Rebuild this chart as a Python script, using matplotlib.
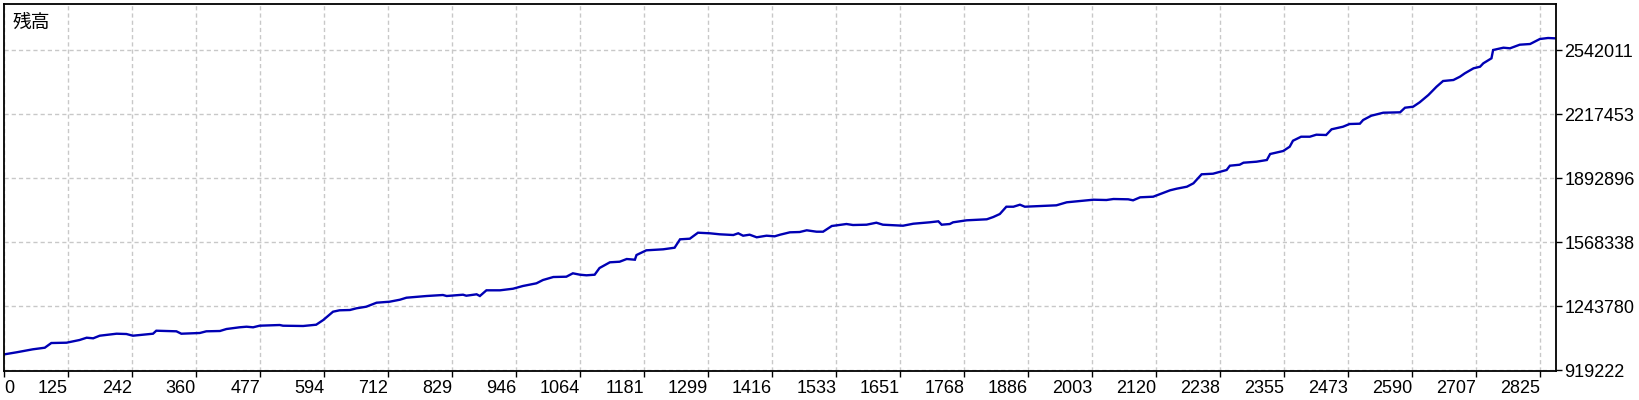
import matplotlib
matplotlib.use('Agg')
import matplotlib.pyplot as plt

# balance curve (trade number, balance)
trades = [1, 23, 53, 75, 87, 115, 139, 152, 164, 176, 207, 225, 237, 274, 280, 317, 326, 360,
          372, 397, 409, 433, 446, 458, 470, 507, 513, 550, 574, 587, 605, 617, 636, 648, 666,
          685, 709, 728, 740, 777, 807, 814, 844, 850, 869, 875, 887, 912, 936, 954, 979, 991,
          1010, 1034, 1046, 1059, 1071, 1086, 1095, 1114, 1132, 1145, 1160, 1163, 1181, 1212,
          1233, 1243, 1261, 1276, 1298, 1316, 1341, 1350, 1359, 1371, 1384, 1402, 1417, 1427,
          1445, 1463, 1476, 1494, 1506, 1522, 1549, 1561, 1586, 1604, 1616, 1653, 1672, 1702,
          1718, 1724, 1739, 1745, 1770, 1807, 1819, 1831, 1843, 1856, 1868, 1877, 1905, 1935,
          1954, 1978, 2003, 2027, 2040, 2067, 2076, 2089, 2113, 2126, 2144, 2156, 2175, 2187,
          2202, 2223, 2248, 2254, 2272, 2279, 2303, 2322, 2328, 2352, 2364, 2370, 2385, 2401,
          2413, 2431, 2441, 2462, 2474, 2493, 2499, 2514, 2536, 2567, 2576, 2591, 2603, 2619,
          2634, 2646, 2665, 2677, 2686, 2702, 2714, 2720, 2735, 2738, 2757, 2769, 2787, 2806,
          2824, 2839, 2851]
balance = [998800, 1008980, 1024200, 1032300, 1056100, 1057700, 1071400, 1083000, 1080000,
           1093200, 1103300, 1101800, 1093200, 1103300, 1118500, 1115500, 1103300, 1106900,
           1115500, 1117000, 1127100, 1135800, 1138800, 1135800, 1143900, 1147400, 1143900,
           1142400, 1148900, 1172800, 1214900, 1222000, 1223500, 1232100, 1240200, 1260500,
           1265600, 1275700, 1285900, 1294500, 1299600, 1294500, 1301100, 1296000, 1303100,
           1294500, 1323400, 1323400, 1331500, 1345200, 1358900, 1375600, 1390800, 1392400,
           1409600, 1402500, 1399500, 1402500, 1436500, 1465400, 1468400, 1482100, 1478600,
           1502400, 1526200, 1531300, 1539400, 1582000, 1585100, 1615500, 1612500, 1607400,
           1603800, 1612500, 1600300, 1605400, 1592200, 1600300, 1597200, 1605400, 1617500,
           1619000, 1627700, 1620600, 1620600, 1649500, 1659600, 1654500, 1656100, 1666200,
           1656100, 1651000, 1661100, 1668200, 1673300, 1656100, 1659600, 1668200, 1678400,
           1683500, 1695100, 1710300, 1747300, 1747300, 1757500, 1747300, 1750900, 1754400,
           1769700, 1776300, 1782800, 1781300, 1786400, 1784900, 1779800, 1795000, 1798100,
           1811800, 1830500, 1838600, 1848800, 1866000, 1911700, 1914700, 1933500, 1955300,
           1960300, 1970500, 1975600, 1984200, 2014600, 2029800, 2051600, 2082000, 2102300,
           2102300, 2112500, 2111000, 2139900, 2153000, 2166700, 2168300, 2187000, 2208800,
           2224000, 2226100, 2249400, 2254500, 2276800, 2313800, 2355900, 2384800, 2389900,
           2406600, 2423800, 2449200, 2457300, 2474600, 2499900, 2542000, 2553700, 2550600,
           2568900, 2572400, 2597800, 2602900, 2601300]

x_labels = ['0', '125', '242', '360', '477', '594', '712', '829', '946', '1064', '1181', '1299',
            '1416', '1533', '1651', '1768', '1886', '2003', '2120', '2238', '2355', '2473',
            '2590', '2707', '2825']
y_ticks = [919222, 1243780, 1568338, 1892896, 2217453, 2542011]

tick_step = 117.7

plt.rcParams['font.family'] = ['Liberation Sans', 'DejaVu Sans']
plt.rcParams['lines.scale_dashes'] = False

fig = plt.figure(figsize=(16.4, 4), dpi=100)
ax = fig.add_axes([4 / 1640, 29 / 400, 1552 / 1640, 367 / 400])

ax.plot(trades, balance, color='#0000b4', lw=1.7, solid_joinstyle='miter')

ax.set_xlim(0, 24.245 * tick_step)
ax.set_ylim(914200, 2775300)

ax.set_xticks([i * tick_step for i in range(len(x_labels))], x_labels)
ax.set_yticks(y_ticks, [str(v) for v in y_ticks])
ax.yaxis.tick_right()

for i, lbl in enumerate(ax.get_xticklabels()):
    lbl.set_ha('left' if i == 0 else 'right')

ax.tick_params(axis='both', direction='out', length=4, width=1, labelsize=13, colors='black')
ax.tick_params(axis='x', pad=2.5)
ax.tick_params(axis='y', pad=2)

ax.grid(True, color='#c8c8c8', lw=1, ls=(0, (3, 2.2)))
ax.set_axisbelow(True)
for s in ax.spines.values():
    s.set_color('black')
    s.set_linewidth(1.3)

ax.text(9 / 1552, 1 - 8 / 367, '残高', transform=ax.transAxes, ha='left', va='top',
        fontsize=13.5, family=['Noto Sans CJK JP', 'DejaVu Sans'])

fig.savefig('out.png', dpi=100, facecolor='white')
